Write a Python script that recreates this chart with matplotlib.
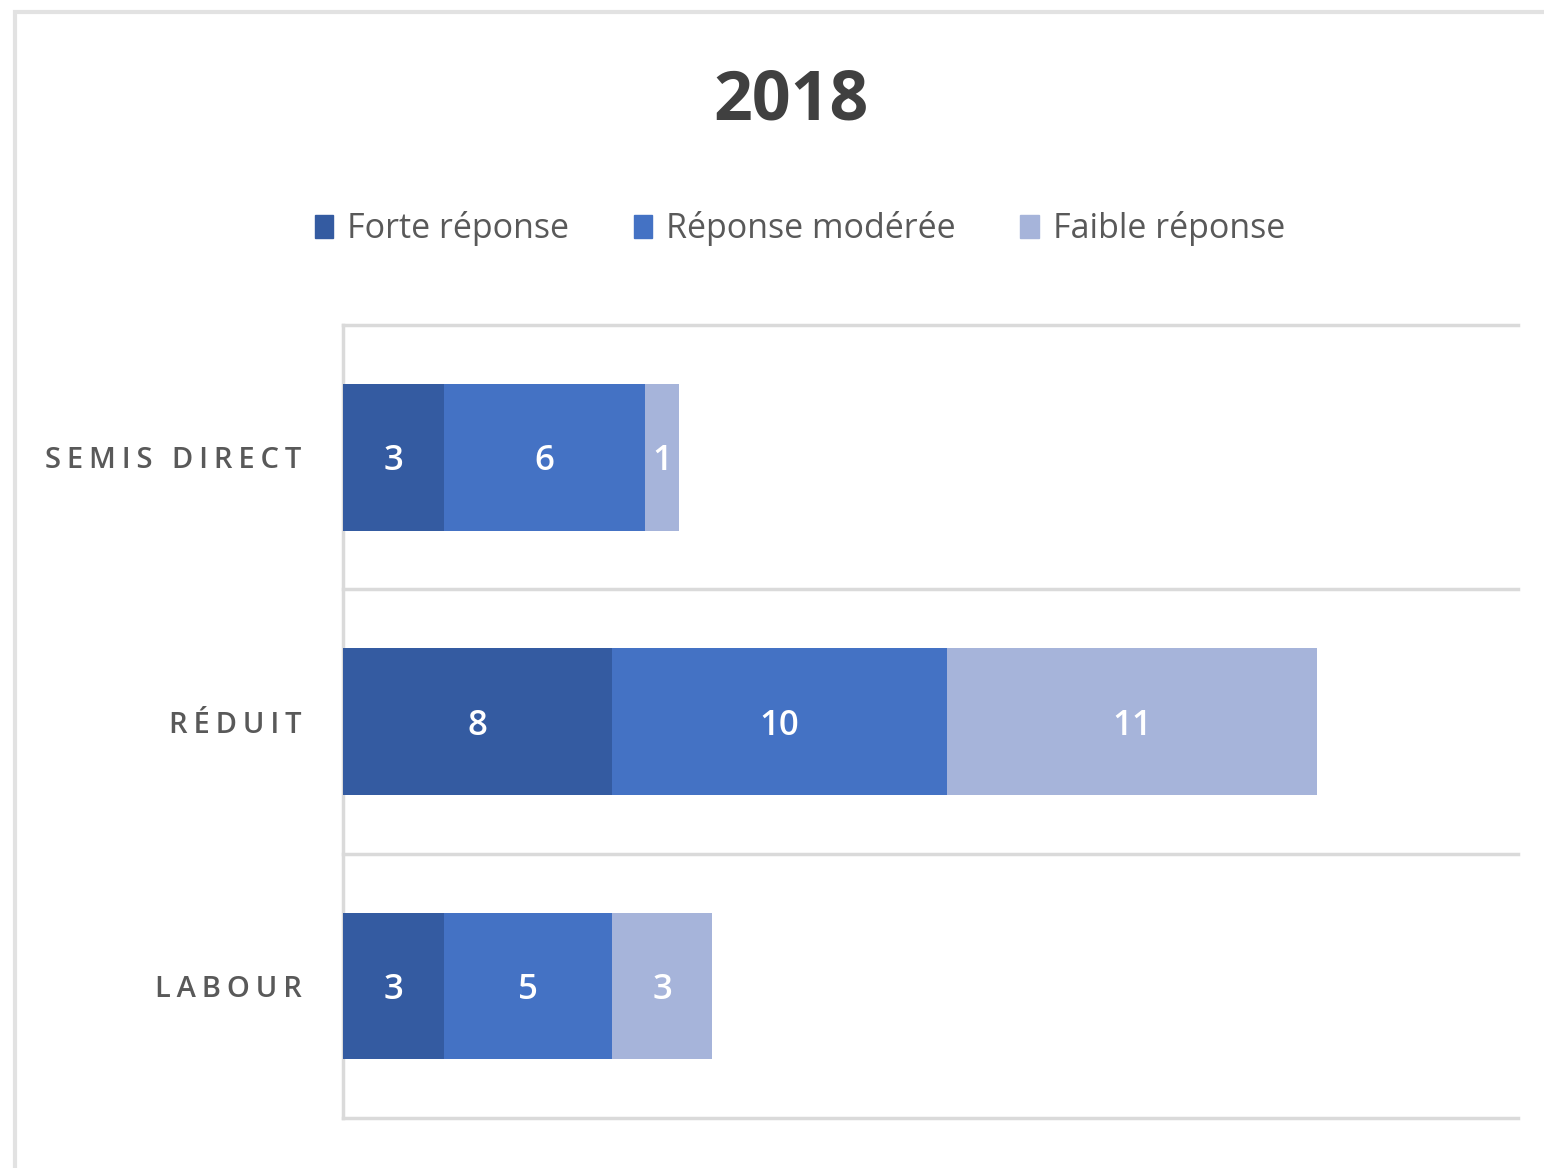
import matplotlib
matplotlib.use('Agg')
import matplotlib.pyplot as plt
from matplotlib.patches import Rectangle, Patch

plt.rcParams['font.family'] = ['Open Sans', 'DejaVu Sans']

categories = ['SEMIS DIRECT', 'RÉDUIT', 'LABOUR']
series_names = ['Forte réponse', 'Réponse modérée', 'Faible réponse']
forte = [3, 8, 3]
moderee = [6, 10, 5]
faible = [1, 11, 3]
colors = ['#345BA1', '#4472C4', '#A6B4DA']

fig = plt.figure(figsize=(15.44, 11.68), dpi=100)
ax = fig.add_axes([0.2222, 0.0428, 0.7610, 0.6789])

# outer chart frame
fig.patches.append(Rectangle((0.0097, -0.05), 1.2, 1.0397, transform=fig.transFigure,
                             fill=False, edgecolor='#e2e2e2', linewidth=3, zorder=0))

y = range(len(categories))
left = [0] * len(categories)
for vals, name, col in zip([forte, moderee, faible], series_names, colors):
    bars = ax.barh(y, vals, left=left, height=0.555, color=col, label=name, zorder=3)
    txts = ax.bar_label(bars, labels=[str(v) for v in vals], label_type='center',
                        color='white', fontsize=25, fontweight='semibold')
    for t in txts:
        t.set_va('center_baseline')
    left = [l + v for l, v in zip(left, vals)]

ax.set_xlim(0, 35)
ax.set_ylim(2.5, -0.5)
ax.set_xticks([])
ax.set_yticks(list(y))
ax.set_yticklabels(['\u2009'.join(c) for c in categories], fontsize=21,
                   color='#595959', fontweight='semibold')
ax.tick_params(axis='y', length=0, pad=30)

# category separator lines
for b in [-0.5, 0.5, 1.5, 2.5]:
    ax.axhline(b, color='#dadada', linewidth=2.5, zorder=1, clip_on=False)
for s in ['top', 'right', 'bottom']:
    ax.spines[s].set_visible(False)
ax.spines['left'].set_color('#dadada')
ax.spines['left'].set_linewidth(2.5)

fig.text(0.512, 0.913, '2018', ha='center', va='center', fontsize=49,
         fontweight='bold', color='#404040')

handles = [Patch(color=c) for c in colors]
fig.legend(handles, series_names, loc='center', bbox_to_anchor=(0.518, 0.804), ncol=3,
           frameon=False, fontsize=24.5, labelcolor='#595959', handlelength=0.55,
           handleheight=0.7, handletextpad=0.4, columnspacing=1.9)

fig.savefig('out.png', dpi=100, facecolor='white')
